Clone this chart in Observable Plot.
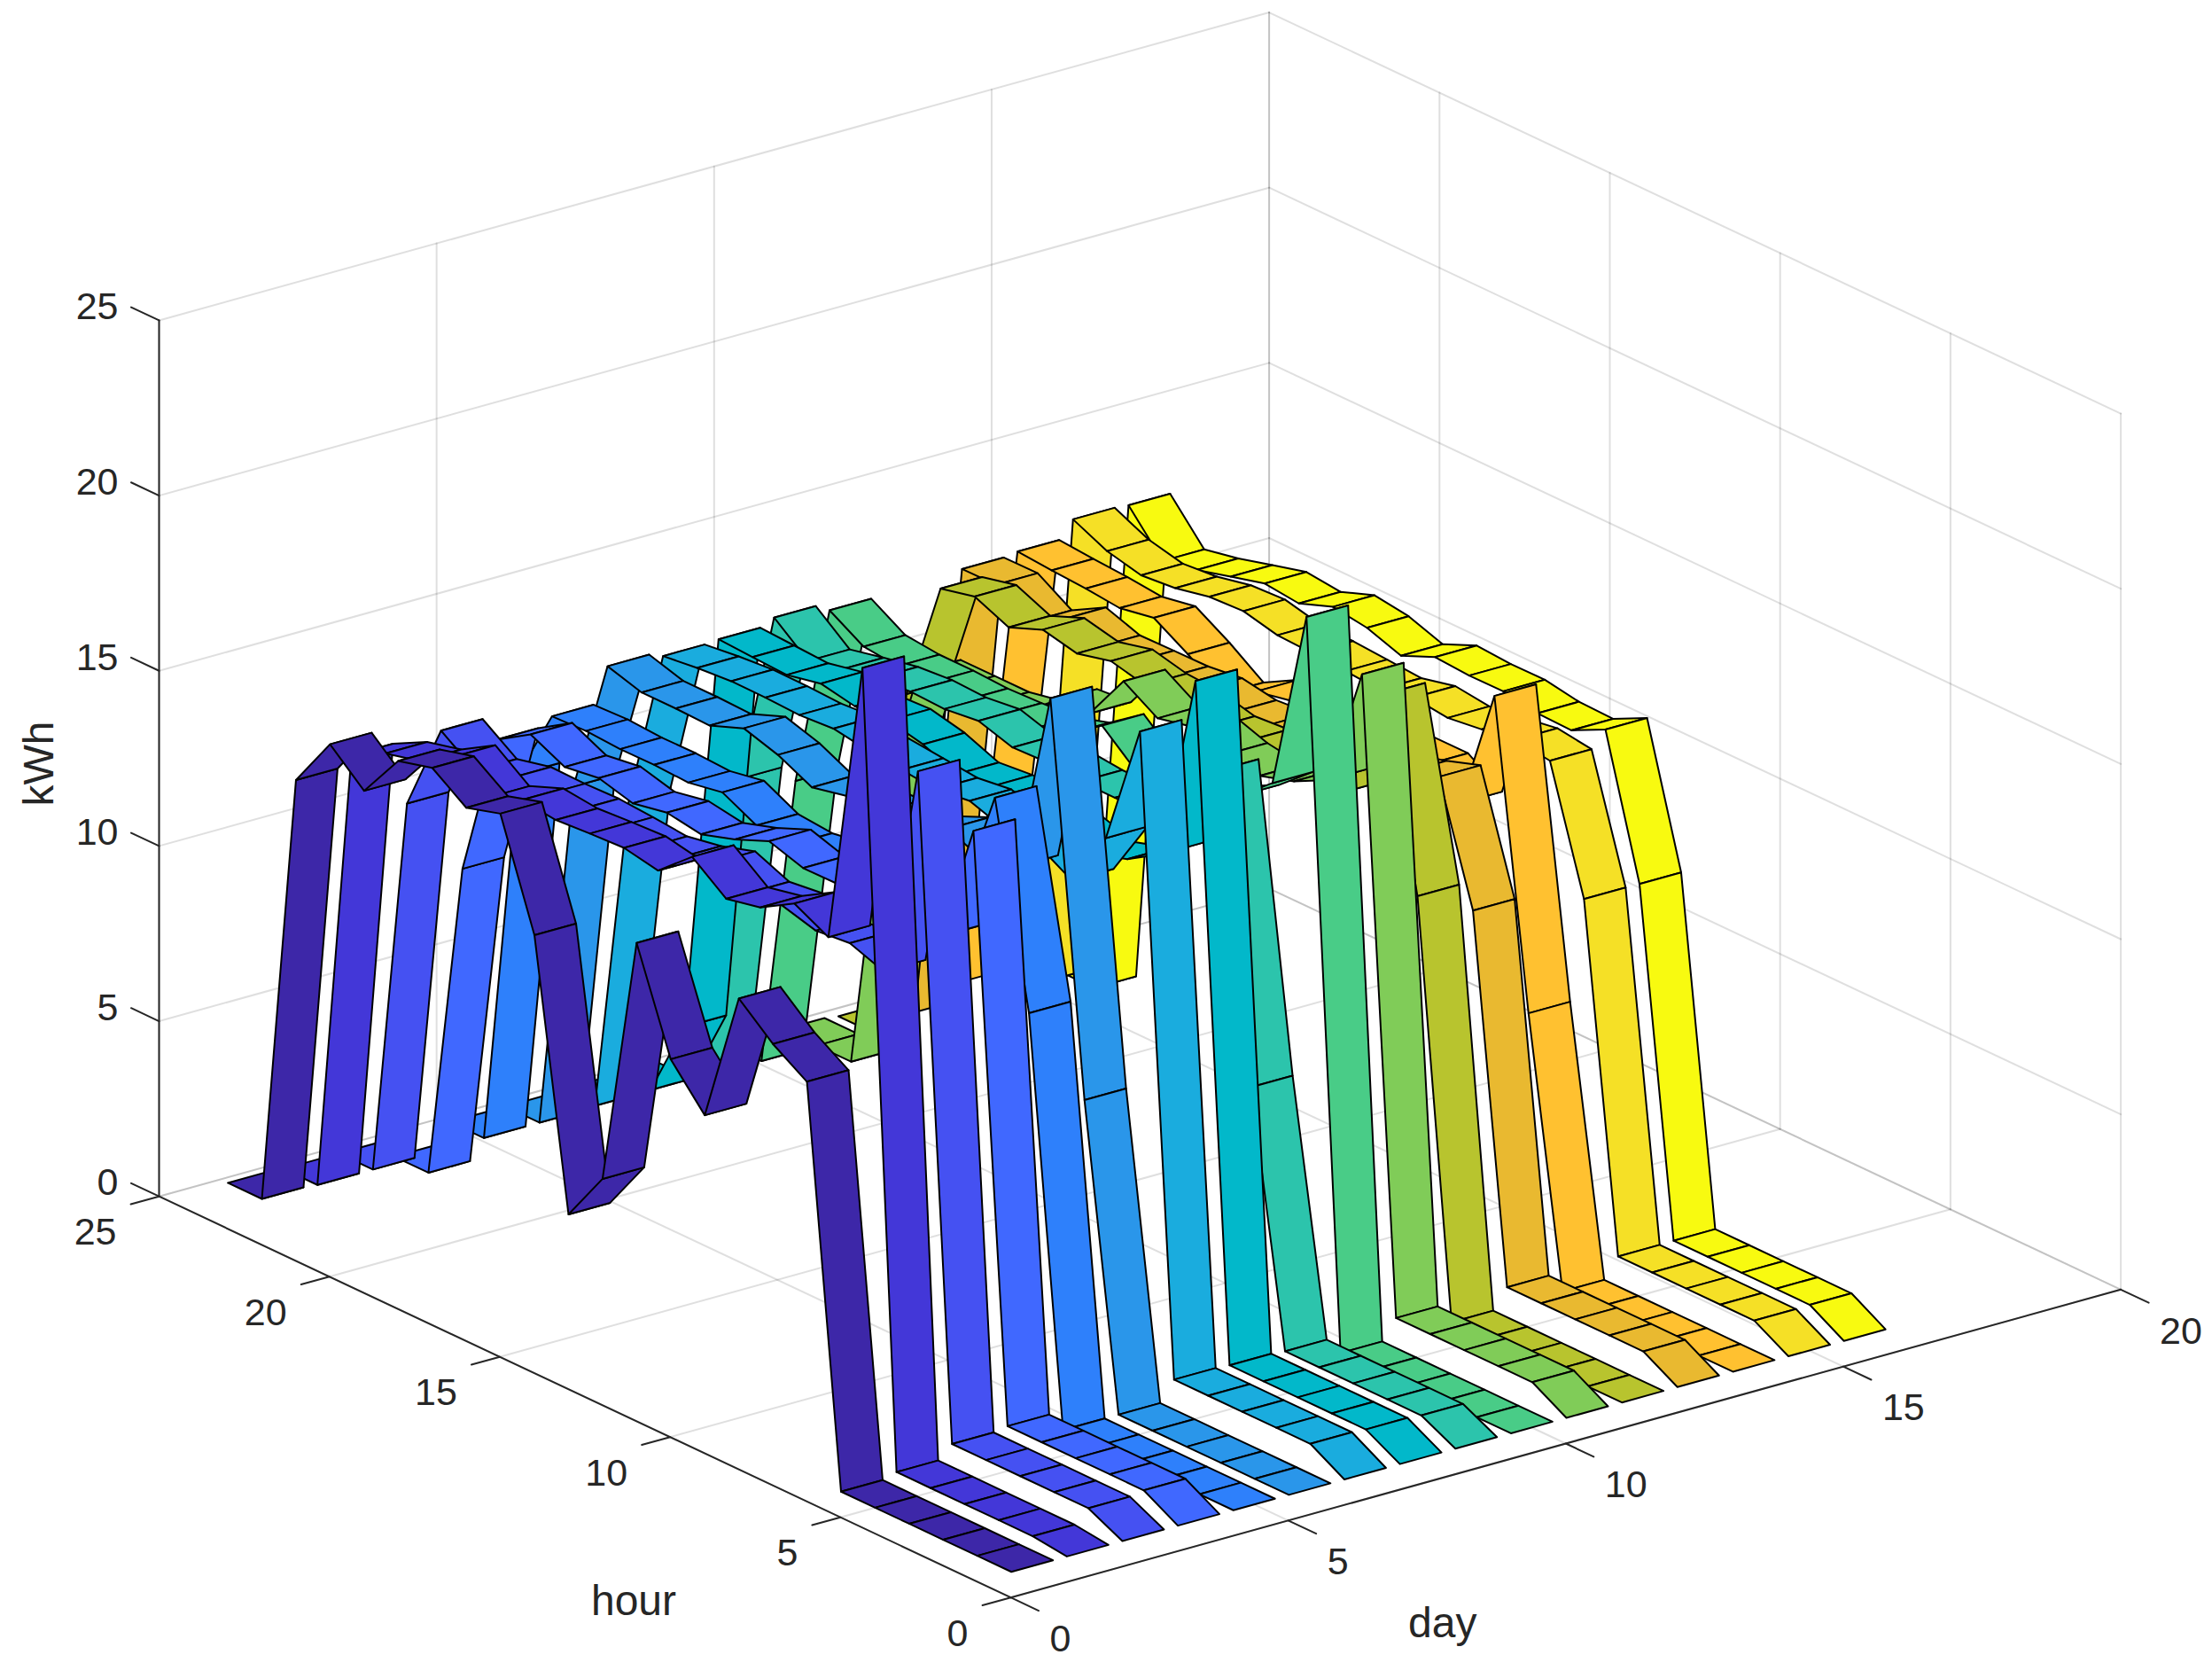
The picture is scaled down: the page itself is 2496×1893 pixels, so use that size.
<!DOCTYPE html>
<html>
<head>
<meta charset="utf-8">
<script src="https://cdn.jsdelivr.net/npm/d3@7"></script>
<script src="https://cdn.jsdelivr.net/npm/@observablehq/plot@0.6"></script>
<style>html,body{margin:0;padding:0;background:#fff}svg{display:block}</style>
</head>
<body>
<div id="chart"></div>
<script>
const hours = [1,2,3,4,5,6,7,8,9,10,11,12,13,14,15,16,17,18,19,20,21,22,23,24];
const day1  = [0,0,0,0,0,0,11.24,11.86,12.70,8.91,10.05,12.91,5.72,4.25,11.76,14.77,14.48,15.16,14.90,13.59,14.46,12.98,.57,.57];
const day2  = [0,.12,.12,.12,.12,.12,22.61,14.47,14.97,14.40,14.19,14.93,14.08,14.27,14.22,14.15,14.26,13.87,14.58,14.0,13.76,13.25,.53,.53];
const day3  = [0,.48,.48,.48,.48,.48,19.22,13.05,13.4,13.3,13.57,13.45,13.86,13.55,13.37,13.46,13.53,13.5,13.52,13.29,13.97,11.43,.53,.53];
const day4  = [0,.55,.55,.55,.55,.55,17.08,13.6,13.6,13.7,13.74,13.73,14.04,13.63,13.32,13.48,13.29,13.55,13.41,13.88,13.27,9.13,0,0];
const day5  = [0,0,0,0,0,0,11.44,17.13,13.9,13.3,13.3,13.3,13.2,13.04,13.13,13.62,13.44,13.49,13.48,13.54,13.5,11.38,.55,.55];
const day6  = [0,0,0,0,0,0,8.52,19.53,14.26,14.0,14.43,14.0,14.0,14.0,13.78,14.25,14.55,14.17,14.2,14.2,14.49,10.6,.55,.55];
const day7  = [0,.56,.56,.56,.56,.56,18.6,15.1,13.43,14.0,14.0,14.33,14.2,14.3,14.4,14.56,14.49,14.53,14.54,14.46,14.34,9.8,.59,.59];
const day8  = [0,.53,.53,.53,.53,.53,19.6,14.2,13.6,13.3,13.6,13.8,13.84,13.74,14.13,14.35,14.3,14.49,14.28,14.33,14.38,2.86,.6,.6];
const day9  = [0,.49,.49,.49,.49,.49,7.57,16.14,14.0,14.0,14.0,14.0,14.1,14.06,14.36,14.24,14.28,14.2,14.0,13.78,14.56,9.5,.55,.55];
const day10 = [0,0,0,0,0,0,20.55,15.35,14.52,14.0,13.9,13.86,14.7,14.0,13.7,13.64,13.6,13.65,13.65,13.75,14.33,9,.55,.55];
const day11 = [0,.56,.56,.56,.56,.56,18.47,15,14.5,14.2,14.35,14.69,14.47,15.07,13.69,13.6,12.8,12.6,12.6,12.6,9,.55,.55,.55];
const day12 = [0,0,0,0,0,0,11.7,17.0,13.8,13.8,13.8,13.84,13.76,14.0,14.06,14.29,14.05,14.27,13.88,14.3,14.07,10.6,.49,.49];
const day13 = [0,.56,.56,.56,.56,.56,10.85,14.21,13.88,13.6,13.5,13.5,13.4,13.32,13.49,13.37,13.36,13.34,13.68,13.14,13.74,13.73,3,0];
const day14 = [0,0,0,0,0,0,7.48,16.08,12.56,13.2,13.2,13.2,13.2,13.2,13.0,12.47,13.15,13.73,13.55,13.65,13.71,13.79,4.8,.5];
const day15 = [0,.56,.56,.56,.56,.56,10.3,13.79,13.93,13.77,13.64,13.76,13.53,13.6,13.67,13.71,13.94,13.89,13.68,13.59,13.82,14.27,.57,.57];
const day16 = [0,.57,.57,.57,.57,.57,10.29,14.24,13.76,13.79,13.96,13.95,14.02,13.6,13.94,14.08,13.72,13.83,13.57,13.30,13.1,14.23,0,0];
const days = [day1,day2,day3,day4,day5,day6,day7,day8,day9,day10,day11,day12,day13,day14,day15,day16];
const ribbonColors = ["#3D27A8","#4337D8","#4551F2","#4068FF","#2E80FB","#2A96EA","#1AACDE","#02B8CA","#2CC4AC","#49CC87","#80CC58","#B8C42E","#E9B930","#FFC130","#F5E026","#F8FA10"];
const dayTicks = [0,5,10,15,20];
const hourTicks = [0,5,10,15,20,25];
const kwhTicks = [0,5,10,15,20,25];
const ribbonWidth = 0.75;

// Orthographic view of the 3-D axes box
const view = {x0:1140, y0:1801.7, dx:62.63, dy:-17.37, hx:-38.44, hy:-18.10, zy:-39.53};
const px = (d,h) => view.x0 + d*view.dx + h*view.hx;
const py = (d,h,z) => view.y0 + d*view.dy + h*view.hy + z*view.zy;
const pt = (d,h,z,extra={}) => ({x:px(d,h), y:py(d,h,z), ...extra});

// Ribbon facets, ordered back to front
const facets = [];
for (let j = days.length; j >= 1; --j) {
  const v = days[j-1], a = j-ribbonWidth/2, b = j+ribbonWidth/2, color = ribbonColors[j-1];
  for (let i = hours.length-2; i >= 0; --i) {
    const id = `${j}-${i}`, h0 = hours[i], h1 = hours[i+1];
    facets.push(pt(a,h0,v[i],{id,color}), pt(b,h0,v[i],{id,color}), pt(b,h1,v[i+1],{id,color}), pt(a,h1,v[i+1],{id,color}));
  }
}

// Grid on the two back walls and the floor
const grid = [];
const seg = (p,q) => { const id = grid.length; grid.push({...p,id},{...q,id}); };
const dMax = d3.max(dayTicks), hMax = d3.max(hourTicks), zMax = d3.max(kwhTicks);
for (const d of dayTicks) { seg(pt(d,hMax,0),pt(d,hMax,zMax)); seg(pt(d,0,0),pt(d,hMax,0)); }
for (const h of hourTicks) { seg(pt(dMax,h,0),pt(dMax,h,zMax)); seg(pt(0,h,0),pt(dMax,h,0)); }
for (const z of kwhTicks) { seg(pt(0,hMax,z),pt(dMax,hMax,z)); seg(pt(dMax,0,z),pt(dMax,hMax,z)); }

// Axis lines and outward ticks
const axes = [];
const axSeg = (p,q) => { const id = axes.length; axes.push({...p,id},{...q,id}); };
axSeg(pt(0,hMax,0),pt(0,hMax,zMax));
axSeg(pt(0,0,0),pt(0,hMax,0));
axSeg(pt(0,0,0),pt(dMax,0,0));
const tickD = 0.51, tickH = 0.82;
for (const z of kwhTicks) axSeg(pt(0,hMax,z),pt(0,hMax+tickH,z));
for (const h of hourTicks) axSeg(pt(0,h,0),pt(-tickD,h,0));
for (const d of dayTicks) axSeg(pt(d,0,0),pt(d,-tickH,0));

const font = {fontFamily:"'Liberation Sans', Arial, sans-serif", fill:"#262626", lineAnchor:"middle"};
const tickSize = 43, labelSize = 48;

const plot = Plot.plot({
  width:2496, height:1893, margin:0,
  style:{background:"#fff", overflow:"visible"},
  x:{domain:[0,2496], range:[0,2496], axis:null},
  y:{domain:[0,1893], range:[0,1893], axis:null},
  color:{type:"identity"},
  marks:[
    Plot.line(grid,{x:"x",y:"y",z:"id",stroke:"#262626",strokeOpacity:0.15,strokeWidth:2}),
    Plot.line(axes,{x:"x",y:"y",z:"id",stroke:"#262626",strokeWidth:2}),
    Plot.line(facets,{x:"x",y:"y",z:"id",fill:"color",stroke:"#000",strokeWidth:2,curve:"linear-closed",strokeLinejoin:"round"}),
    Plot.text(kwhTicks,{x:z=>px(0,hMax),y:z=>py(0,hMax,z),text:z=>String(z),textAnchor:"end",dx:-46,dy:-15,fontSize:tickSize,...font}),
    Plot.text(hourTicks,{x:h=>px(0,h),y:h=>py(0,h,0),text:h=>String(h),textAnchor:"end",dx:-48,dy:41,fontSize:tickSize,...font}),
    Plot.text(dayTicks,{x:d=>px(d,0),y:d=>py(d,0,0),text:d=>String(d),textAnchor:"start",dx:44,dy:47,fontSize:tickSize,...font}),
    Plot.text(["kWh"],{x:()=>px(0,hMax),y:()=>py(0,hMax,zMax/2),text:d=>d,rotate:-90,dx:-135,dy:6,fontSize:labelSize,...font}),
    Plot.text(["hour"],{x:()=>px(0,hMax/2),y:()=>py(0,hMax/2,0),text:d=>d,dx:55,dy:231,fontSize:labelSize,...font}),
    Plot.text(["day"],{x:()=>px(dMax/2,0),y:()=>py(dMax/2,0,0),text:d=>d,dx:-139,dy:203,fontSize:labelSize,...font})
  ]
});
document.getElementById("chart").append(plot);
</script>
</body>
</html>
